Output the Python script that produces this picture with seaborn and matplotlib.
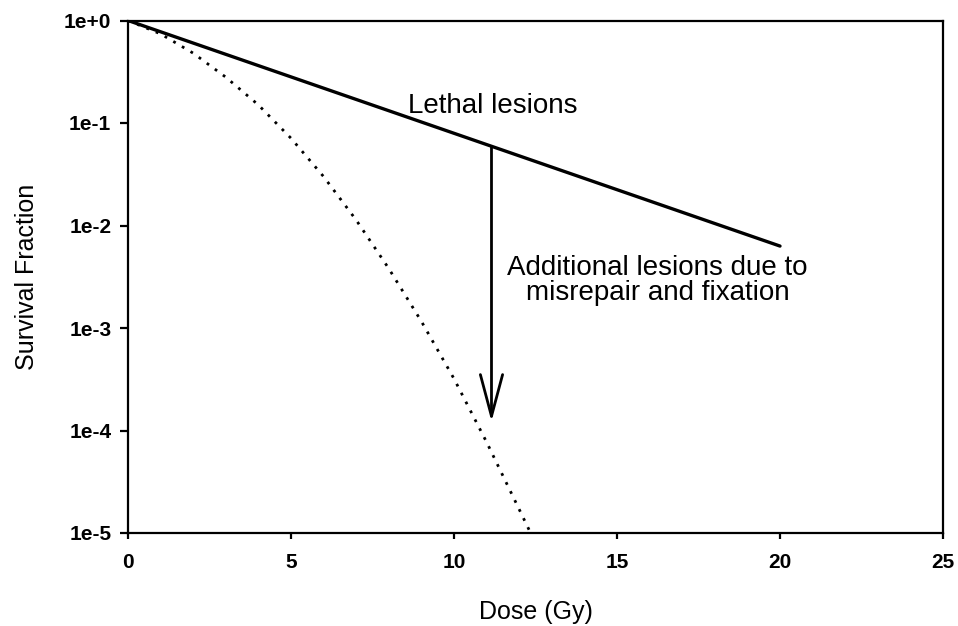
import matplotlib
matplotlib.use("Agg")
import matplotlib.pyplot as plt
import seaborn as sns
import pandas as pd
from matplotlib.ticker import NullLocator

# ---- data ----
dose_lethal = [0, 20]
sf_lethal = [1.0, 6.3e-3]

dose_total = [0, 1, 2, 3, 4, 5, 6, 7, 8, 9, 10, 11, 12, 12.35]
sf_total = [1.0, 0.74, 0.48, 0.28, 0.15, 0.071, 0.030, 0.0113, 0.0038,
            0.00116, 3.2e-4, 7.7e-5, 1.7e-5, 1.0e-5]

x_ticks = [0, 5, 10, 15, 20, 25]
y_ticks = [1e-5, 1e-4, 1e-3, 1e-2, 1e-1, 1e0]
y_tick_labels = ["1e-5", "1e-4", "1e-3", "1e-2", "1e-1", "1e+0"]

arrow_dose = 11.15
arrow_from = 0.058
arrow_to = 1.22e-4

label_lethal = "Lethal lesions"
label_misrepair = "Additional lesions due to\nmisrepair and fixation"

# ---- style ----
sns.set_style("white")
plt.rcParams["font.family"] = ["Liberation Sans", "DejaVu Sans"]
plt.rcParams["text.color"] = "black"
plt.rcParams["axes.labelcolor"] = "black"

fig = plt.figure(figsize=(9.58, 6.26), dpi=100)
ax = fig.add_axes([128 / 958, 1 - 533 / 626, 815 / 958, 512.5 / 626])

df_l = pd.DataFrame({"dose": dose_lethal, "sf": sf_lethal})
df_t = pd.DataFrame({"dose": dose_total, "sf": sf_total})

sns.lineplot(data=df_l, x="dose", y="sf", color="black", linewidth=2.4, ax=ax)
sns.lineplot(data=df_t, x="dose", y="sf", color="black", linewidth=2.0,
             linestyle=(0, (1, 2.6)), ax=ax)

ax.set_yscale("log")
ax.set_xlim(0, 25)
ax.set_ylim(1e-5, 1e0)
ax.set_xticks(x_ticks)
ax.set_xticklabels([str(t) for t in x_ticks], fontsize=15, fontweight="bold")
ax.set_yticks(y_ticks)
ax.set_yticklabels(y_tick_labels, fontsize=15, fontweight="bold")
ax.yaxis.set_minor_locator(NullLocator())

for s in ax.spines.values():
    s.set_visible(True)
    s.set_linewidth(1.6)
    s.set_color("black")

ax.tick_params(axis="x", direction="out", length=4.5, width=1.6, pad=10,
               bottom=True, top=False, colors="black")
ax.tick_params(axis="y", direction="out", length=6, width=1.6, pad=6,
               left=True, right=False, colors="black")

ax.set_xlabel("Dose (Gy)", fontsize=18, labelpad=20, color="black")
ax.set_ylabel("Survival Fraction", fontsize=18, labelpad=18, color="black")
ax.grid(False)

ax.text(11.2, 0.125, label_lethal, fontsize=20, ha="center", va="baseline",
        color="black")
ax.text(16.24, 1.875e-3, label_misrepair, fontsize=20, ha="center",
        va="baseline", multialignment="center", linespacing=0.95,
        color="black")

ax.annotate("", xy=(arrow_dose, arrow_to), xytext=(arrow_dose, arrow_from),
            arrowprops=dict(arrowstyle="->,head_length=30,head_width=8",
                            mutation_scale=1, lw=2.0, color="black",
                            shrinkA=0, shrinkB=0))

fig.savefig("out.png", dpi=100)
